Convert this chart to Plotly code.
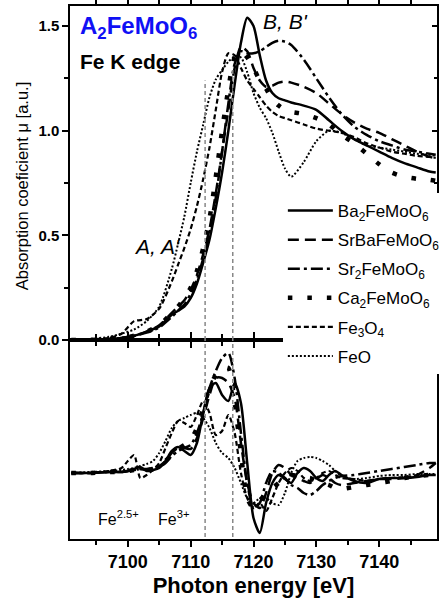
import plotly.graph_objects as go

# ---------------- data ----------------
energy = [7091, 7094, 7097, 7099, 7101, 7103, 7105, 7107, 7108, 7109,
          7110, 7111, 7112, 7113, 7114, 7115, 7116, 7117, 7118, 7119,
          7120, 7121, 7122, 7123, 7124, 7125, 7126, 7128, 7130, 7132,
          7134, 7136, 7138, 7140, 7142, 7144, 7146, 7148, 7149]

mu_ba2 = [0.0, 0.0, 0.005, 0.01, 0.02, 0.04, 0.065, 0.12, 0.14, 0.16,
          0.2, 0.27, 0.37, 0.48, 0.63, 0.8, 1.0, 1.22, 1.42, 1.54,
          1.5, 1.36, 1.24, 1.18, 1.155, 1.145, 1.135, 1.12, 1.1, 1.05,
          1.0, 0.96, 0.93, 0.9, 0.87, 0.845, 0.825, 0.805, 0.8]
mu_srba = [0.0, 0.0, 0.005, 0.01, 0.02, 0.04, 0.07, 0.13, 0.16, 0.19,
           0.24, 0.31, 0.41, 0.53, 0.7, 0.9, 1.1, 1.3, 1.4, 1.38,
           1.3, 1.24, 1.21, 1.215, 1.23, 1.235, 1.23, 1.21, 1.18, 1.13,
           1.08, 1.04, 1.01, 0.99, 0.96, 0.93, 0.9, 0.875, 0.87]
mu_sr2 = [0.0, 0.0, 0.005, 0.01, 0.02, 0.035, 0.06, 0.11, 0.14, 0.17,
          0.22, 0.29, 0.39, 0.51, 0.68, 0.9, 1.13, 1.32, 1.38, 1.37,
          1.37, 1.38, 1.4, 1.42, 1.43, 1.425, 1.41, 1.34, 1.25, 1.16,
          1.08, 1.02, 0.98, 0.95, 0.93, 0.91, 0.9, 0.89, 0.885]
mu_ca2 = [0.0, 0.0, 0.005, 0.01, 0.02, 0.04, 0.07, 0.13, 0.16, 0.2,
          0.25, 0.33, 0.44, 0.58, 0.78, 1.0, 1.2, 1.35, 1.38, 1.35,
          1.3, 1.24, 1.2, 1.15, 1.12, 1.1, 1.09, 1.08, 1.06, 1.03,
          0.98, 0.94, 0.89, 0.84, 0.8, 0.78, 0.77, 0.765, 0.76]
mu_fe3o4 = [0.0, 0.003, 0.01, 0.03, 0.09, 0.1, 0.15, 0.28, 0.36, 0.44,
            0.53, 0.64, 0.77, 0.92, 1.1, 1.28, 1.37, 1.36, 1.3, 1.24,
            1.2, 1.16, 1.12, 1.09, 1.07, 1.06, 1.05, 1.03, 1.01, 1.0,
            0.99, 0.97, 0.94, 0.92, 0.9, 0.89, 0.88, 0.875, 0.87]
mu_feo = [0.0, 0.005, 0.015, 0.03, 0.05, 0.09, 0.16, 0.34, 0.46, 0.59,
          0.75, 0.9, 1.03, 1.16, 1.245, 1.29, 1.33, 1.355, 1.35, 1.28,
          1.18, 1.11, 1.06, 0.99, 0.9, 0.82, 0.78, 0.85, 0.95, 1.0,
          0.99, 0.96, 0.93, 0.92, 0.91, 0.9, 0.89, 0.885, 0.88]

energy_d = [7091, 7094, 7097, 7099, 7100, 7101, 7102, 7103, 7104, 7105,
            7106, 7107, 7108, 7109, 7110, 7111, 7112, 7113, 7114, 7115,
            7116, 7117, 7118, 7119, 7120, 7121, 7122, 7123, 7124, 7125,
            7126, 7127, 7128, 7129, 7130, 7131, 7132, 7133, 7134, 7136,
            7138, 7140, 7142, 7144, 7146, 7148, 7149]

d_ba2 = [0.0, 0.0, 0.01, 0.01, 0.02, 0.04, 0.06, 0.02, 0.03, 0.05,
         0.12, 0.22, 0.26, 0.22, 0.18, 0.3, 0.6, 0.85, 0.9, 0.78,
         0.72, 0.9, 0.7, 0.1, -0.45, -0.6, -0.3, -0.1, -0.02, -0.06,
         -0.1, 0.0, 0.05, 0.02, -0.05, -0.08, -0.02, 0.02, -0.02, -0.08,
         -0.1, -0.06, -0.05, -0.05, -0.04, -0.02, -0.02]
d_srba = [0.0, 0.0, 0.01, 0.01, 0.02, 0.03, 0.04, 0.04, 0.05, 0.07,
          0.12, 0.2, 0.25, 0.25, 0.24, 0.35, 0.55, 0.78, 0.95, 0.95,
          0.9, 0.75, 0.3, -0.1, -0.3, -0.35, -0.2, 0.0, 0.08, 0.05,
          -0.02, -0.05, -0.08, -0.1, -0.06, -0.02, -0.05, -0.1, -0.12, -0.1,
          -0.08, -0.06, -0.06, -0.05, -0.02, 0.05, 0.1]
d_sr2 = [0.0, 0.0, 0.01, 0.01, 0.02, 0.03, 0.04, 0.03, 0.04, 0.06,
         0.1, 0.17, 0.22, 0.25, 0.28, 0.4, 0.6, 0.85, 1.02, 1.15,
         1.2, 0.95, 0.4, -0.1, -0.35, -0.3, -0.1, 0.02, 0.0, -0.05,
         -0.12, -0.15, -0.2, -0.22, -0.18, -0.12, -0.08, -0.05, -0.03, -0.02,
         0.0, 0.02, 0.04, 0.06, 0.08, 0.1, 0.1]
d_ca2 = [0.0, 0.0, 0.01, 0.01, 0.02, 0.03, 0.03, 0.03, 0.04, 0.07,
         0.12, 0.18, 0.24, 0.28, 0.33, 0.45, 0.65, 0.85, 0.98, 1.05,
         1.05, 0.7, 0.2, -0.25, -0.35, -0.28, -0.2, -0.15, -0.1, -0.05,
         -0.02, -0.03, -0.05, -0.05, -0.08, -0.1, -0.12, -0.15, -0.16, -0.14,
         -0.12, -0.1, -0.08, -0.05, -0.03, -0.02, -0.02]
d_fe3o4 = [0.0, 0.0, 0.02, 0.05, 0.12, 0.18, -0.05, -0.02, 0.03, 0.1,
           0.25, 0.4, 0.52, 0.5, 0.46, 0.58, 0.72, 0.6, 0.38, 0.42,
           0.58, 0.4, 0.0, -0.25, -0.35, -0.3, -0.38, -0.25, -0.1, 0.0,
           0.05, 0.02, -0.05, -0.08, -0.05, 0.0, 0.02, -0.02, -0.05, -0.06,
           -0.08, -0.06, -0.05, -0.04, -0.03, -0.02, -0.02]
d_feo = [0.0, 0.01, 0.02, 0.03, 0.04, 0.05, 0.07, 0.09, 0.12, 0.2,
         0.32, 0.45, 0.52, 0.55, 0.58, 0.6, 0.55, 0.45, 0.3, 0.2,
         0.15, 0.05, -0.1, -0.25, -0.3, -0.25, -0.25, -0.3, -0.32, -0.2,
         0.0, 0.12, 0.15, 0.16, 0.15, 0.12, 0.08, 0.02, -0.03, -0.06,
         -0.05, -0.03, -0.02, -0.02, -0.01, -0.01, -0.01]

names = ["Ba<sub>2</sub>FeMoO<sub>6</sub>", "SrBaFeMoO<sub>6</sub>",
         "Sr<sub>2</sub>FeMoO<sub>6</sub>", "Ca<sub>2</sub>FeMoO<sub>6</sub>",
         "Fe<sub>3</sub>O<sub>4</sub>", "FeO"]
ref_energies = [7112.3, 7116.7]
ref_tops = [1.24, 1.30]
ref_labels = ["Fe<sup>2.5+</sup>", "Fe<sup>3+</sup>"]
ref_label_x = [7094.9, 7104.5]

# ---------------- styling ----------------
FONT = "Liberation Sans, Arial, sans-serif"
styles = [
    dict(width=2.5, dash="solid"),
    dict(width=2.5, dash="11px,6px"),
    dict(width=2.5, dash="12px,4px,3px,4px"),
    dict(width=4.5, dash="4.5px,15px"),
    dict(width=2.2, dash="5px,3px"),
    dict(width=2.0, dash="2px,2px"),
]
mu_all = [mu_ba2, mu_srba, mu_sr2, mu_ca2, mu_fe3o4, mu_feo]
d_all = [d_ba2, d_srba, d_sr2, d_ca2, d_fe3o4, d_feo]

fig = go.Figure()
for i, (nm, mu, st) in enumerate(zip(names, mu_all, styles)):
    fig.add_trace(go.Scatter(x=energy, y=mu, name=nm, mode="lines",
                             line=dict(color="black", shape="spline", smoothing=0.7, **st),
                             xaxis="x2", yaxis="y2", legendgroup="g%d" % i))
for i, (nm, d, st) in enumerate(zip(names, d_all, styles)):
    fig.add_trace(go.Scatter(x=energy_d, y=d, name=nm, mode="lines", showlegend=False,
                             line=dict(color="black", shape="spline", smoothing=0.7, **st),
                             xaxis="x", yaxis="y", legendgroup="g%d" % i))
# dummy trace to show the inner right-hand ticks of the upper panel
fig.add_trace(go.Scatter(x=[None], y=[None], xaxis="x2", yaxis="y3", showlegend=False))

XR = [7090.8, 7149.2]
split = 0.3734
shapes = []
for e, top in zip(ref_energies, ref_tops):
    shapes.append(dict(type="line", xref="x", yref="y", x0=e, x1=e, y0=-0.64, y1=1.4,
                       line=dict(color="#888888", width=1.5, dash="4px,3px"), layer="above"))
    shapes.append(dict(type="line", xref="x2", yref="y2", x0=e, x1=e, y0=0, y1=top,
                       line=dict(color="#888888", width=1.5, dash="4px,3px"), layer="above"))

annotations = [
    dict(text="<b>A<sub>2</sub>FeMoO<sub>6</sub></b>", xref="paper", yref="paper",
         x=0.022, y=0.96, xanchor="left", yanchor="middle", showarrow=False,
         font=dict(family=FONT, size=24, color="#1010f5")),
    dict(text="<b>Fe K edge</b>", xref="paper", yref="paper",
         x=0.022, y=0.895, xanchor="left", yanchor="middle", showarrow=False,
         font=dict(family=FONT, size=21, color="black")),
    dict(text="<i>B, B'</i>", xref="x2", yref="y2", x=7121.2, y=1.52,
         xanchor="left", yanchor="middle", showarrow=False,
         font=dict(family=FONT, size=21, color="black")),
    dict(text="<i>A, A'</i>", xref="x2", yref="y2", x=7100.6, y=0.447,
         xanchor="left", yanchor="middle", showarrow=False,
         font=dict(family=FONT, size=21, color="black")),
    dict(text="Absorption coeficient \u03bc [a.u.]", xref="paper", yref="paper",
         x=-0.13, y=(539 - 186) / 533, xanchor="center", yanchor="middle",
         textangle=-90, showarrow=False, font=dict(family=FONT, size=16.5, color="black")),
]
for lab, lx in zip(ref_labels, ref_label_x):
    annotations.append(dict(text=lab, xref="x", yref="y", x=lx, y=-0.45,
                            xanchor="left", yanchor="middle", showarrow=False,
                            font=dict(family=FONT, size=16, color="black")))

axis_common = dict(showgrid=False, zeroline=False, linecolor="black", linewidth=1.5,
                   tickcolor="black", tickwidth=1.5)

fig.update_layout(
    width=439, height=604,
    margin=dict(l=70, r=2, t=6, b=65, autoexpand=False),
    paper_bgcolor="white", plot_bgcolor="white",
    font=dict(family=FONT, color="black"),
    xaxis=dict(domain=[0, 1], anchor="y", range=XR, showline=True, mirror="ticks",
               ticks="outside", ticklen=6, dtick=10, tick0=7100,
               minor=dict(dtick=5, ticklen=4, ticks="outside", tickcolor="black", tickwidth=1.5),
               tickfont=dict(family=FONT, size=18), tickprefix="<b>", ticksuffix="</b>",
               title=dict(text="<b>Photon energy [eV]</b>", font=dict(family=FONT, size=22), standoff=6),
               **axis_common),
    xaxis2=dict(domain=[0, 1], anchor="y2", range=XR, matches="x", showline=True, mirror="ticks",
                ticks="outside", ticklen=6, dtick=10, tick0=7100, showticklabels=False,
                minor=dict(dtick=5, ticklen=4, ticks="outside", tickcolor="black", tickwidth=1.5),
                **axis_common),
    yaxis=dict(domain=[0, split], anchor="x", range=[-0.66, 1.33], showline=True, mirror=True,
               ticks="", showticklabels=False, **axis_common),
    yaxis2=dict(domain=[split, 1], anchor="x2", range=[0, 1.596], showline=True, mirror=True,
                ticks="outside", ticklen=6, dtick=0.5, tick0=0, tickformat=".1f",
                minor=dict(dtick=0.25, ticklen=4, ticks="outside", tickcolor="black", tickwidth=1.5),
                tickfont=dict(family=FONT, size=15), tickprefix="<b>", ticksuffix="</b>",
                **axis_common),
    yaxis3=dict(overlaying="y2", anchor="x2", side="right", range=[0, 1.596], showline=False,
                ticks="inside", ticklen=5, dtick=0.5, tick0=0, showticklabels=False,
                minor=dict(dtick=0.25, ticklen=3, ticks="inside", tickcolor="black", tickwidth=1.5),
                showgrid=False, zeroline=False, tickcolor="black", tickwidth=1.5),
    legend=dict(x=0.580, y=(539 - 193) / 533, xanchor="left", yanchor="top",
                bgcolor="white", borderwidth=0, font=dict(family=FONT, size=17),
                itemwidth=45, tracegroupgap=4, traceorder="grouped"),
    shapes=shapes, annotations=annotations, showlegend=True,
)

fig.write_html("out.html")
